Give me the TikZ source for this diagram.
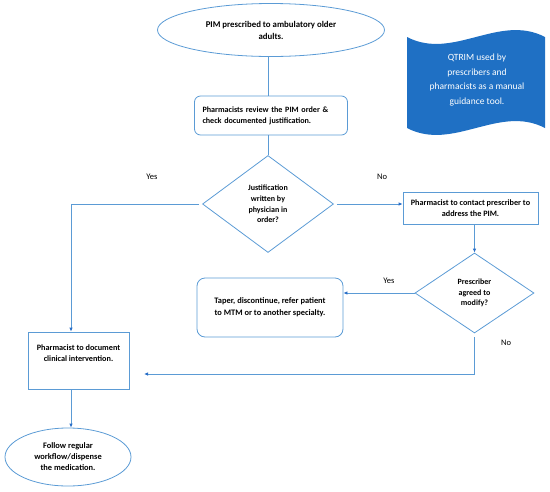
\documentclass[tikz,border=0pt]{standalone}
\usepackage{fontspec}
\setmainfont{Carlito}
\usetikzlibrary{arrows.meta,%
	shapes.geometric}
\definecolor{lineblue}{RGB}{91,155,213}
\definecolor{tipblue}{RGB}{40,110,200}
\definecolor{tapeblue}{RGB}{31,112,196}

\begin{document}
\begin{tikzpicture}[x=1pt,y=-1pt]
			\useasboundingbox (0,0) rectangle (550,491);
			\tikzstyle{OvalStyle} = [ellipse, draw=lineblue, line width=0.8pt, inner sep=0pt, align=center, font=\bfseries\fontsize{8.4}{11}\selectfont]
			\tikzstyle{BoxStyle} = [rectangle, draw=lineblue, line width=0.8pt, inner sep=0pt, align=center, font=\bfseries\fontsize{8.2}{11}\selectfont]
			\tikzstyle{DecisionStyle} = [diamond, draw=lineblue, line width=0.8pt, inner sep=0pt, align=center, font=\bfseries\fontsize{8}{10.8}\selectfont]
			\tikzstyle{EdgeStyle} = [draw=lineblue, line width=0.8pt]
			\tikzstyle{ArrowStyle} = [EdgeStyle, -{Latex[length=4pt,width=3.5pt,color=tipblue]}]
			\tikzstyle{LabelStyle} = [font=\fontsize{8.5}{10}\selectfont]
			
			\node[OvalStyle, minimum width=227, minimum height=53, font=\bfseries\fontsize{8.8}{12}\selectfont] (pim) at (271,30) {PIM prescribed to ambulatory older\\adults.};
			\node[BoxStyle, rounded corners=6pt, minimum width=153, minimum height=39, text width=137pt, align=left, font=\bfseries\fontsize{8.1}{10.7}\selectfont] (review) at (271,115.5) {Pharmacists review the PIM order \&\\check documented justification.};
			\node[DecisionStyle, minimum width=131, minimum height=97] (just) at (268,204) {Justification\\written by\\physician in\\order?};
			\node[BoxStyle, minimum width=135, minimum height=32] (contact) at (470.5,208) {Pharmacist to contact prescriber to\\address the PIM.};
			\node[DecisionStyle, minimum width=119, minimum height=80] (agree) at (474.5,293) {Prescriber\\agreed to\\modify?};
			\node[BoxStyle, rounded corners=8pt, minimum width=146, minimum height=59, font=\bfseries\fontsize{8.4}{12}\selectfont] (taper) at (270,307.5) {Taper, discontinue, refer patient\\to MTM or to another specialty.};
			\node[BoxStyle, minimum width=101, minimum height=57] (doc) at (78.5,360.5) {Pharmacist to document\\clinical intervention.\\[3pt]};
			\node[OvalStyle, minimum width=126, minimum height=58] (follow) at (68,457) {Follow regular\\workflow/dispense\\the medication.};
			\coordinate (noend) at (144,374);
			
			% QTRIM note
			\fill[tapeblue] (407,37) .. controls (453,61) and (499,13) .. (545,37) -- (545,128) .. controls (499,104) and (453,152) .. (407,128) -- cycle;
			\node[text=white, align=center, font=\fontsize{9.5}{14.5}\selectfont] (qtrim) at (477,80) {QTRIM used by\\prescribers and\\pharmacists as a manual\\guidance tool.};
			
			\node[LabelStyle] (yesA) at (152,177) {Yes};
			\node[LabelStyle] (noA) at (382,177) {No};
			\node[LabelStyle] (yesB) at (389,281) {Yes};
			\node[LabelStyle] (noB) at (506,343) {No};
			
			\draw[EdgeStyle] (pim.south -| just.north) -- (review.north -| just.north);
			\draw[EdgeStyle] (review.south -| just.north) -- (just.north);
			\draw[ArrowStyle, shorten <=3pt] (just.west) -| ([xshift=-7.5pt]doc.north);
			\draw[ArrowStyle, shorten <=3pt] (just.east) -- (just.east -| contact.west);
			\draw[ArrowStyle] (contact.south -| agree.north) -- (agree.north);
			\draw[ArrowStyle] (agree.west) -- (agree.west -| taper.east);
			\draw[ArrowStyle, shorten <=4pt] (agree.south) |- (noend);
			\draw[ArrowStyle] ([xshift=-7.5pt]doc.south) -- ([xshift=3pt]follow.north);
			\end{tikzpicture}
\end{document}
